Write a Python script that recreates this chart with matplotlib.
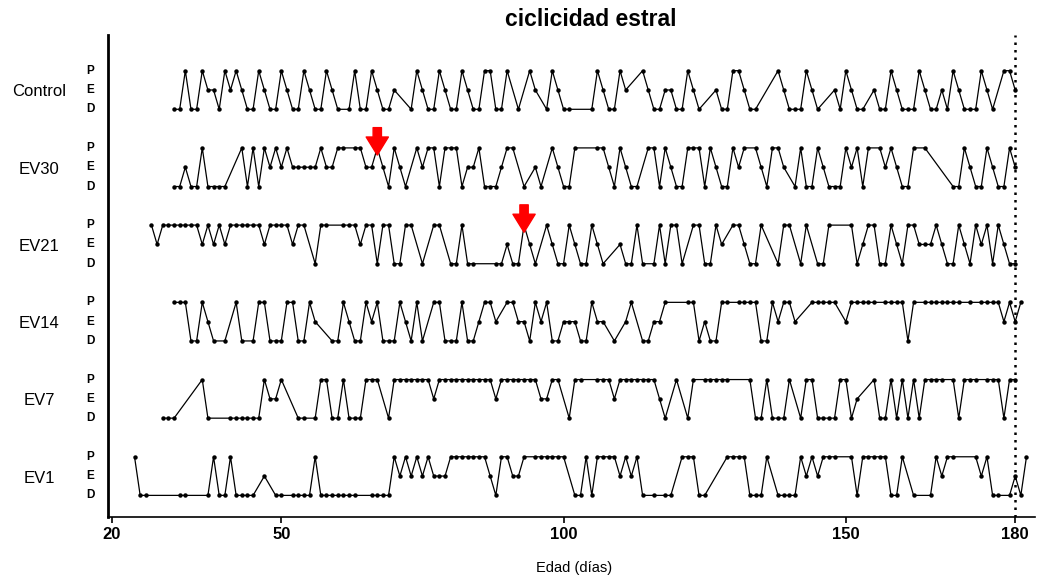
import matplotlib.pyplot as plt

plt.rcParams["font.family"] = ["Liberation Sans", "DejaVu Sans"]

groups = ["Control", "EV30", "EV21", "EV14", "EV7", "EV1"]
first_day = [31, 31, 27, 31, 29, 24]

# one letter per day: P proestro, E estro, D diestro, "-" = no frotis
control = ("DDPDDPEEDP" "EPEDDPEDDP" "EDDPEDDPED" "-DPDDPEDDE" "--DPEDDPED"
           "DPEDDPPDDP" "-D-PE-DPED" "D---DPEDDP" "E--PEDDEED" "DPED--EDDP"
           "PEDD---PED" "DDPED--EDP" "EDD-EDDPED" "DDPEDDEDPE" "DDDPED-PPE")
ev30 = ("DDEDDPDDDD" "--PDPDPEPE" "PEEEEEPEEP" "P-PPEEPEDP" "ED-PEPPDPP"
        "PDEEPDDDEP" "P-D-ED-PED" "DP---PPEDP" "EDD-PPDPED" "DPPPDPEDDP"
        "EP-PEDPPE-" "DPDDPEDDDP" "EPDP-PEPED" "DP-P----DD" "PEDDPEDDPE")
ev21 = ("PEPPPPPPPE" "PEPEPPPPPP" "EPPPPEPP-D" "PP--PPPEPP" "DPPDDPP-D-"
        "PP-DDPDD--" "-DDEDDPED-" "PEDDPEDDPE" "D--EDDPD-D" "PDPPD-PPDD"
        "PE-PPEDDP-" "-DPP-DP-DD" "P---PDEPPD" "DPEDPPEEEP" "EDDPEDPEPD"
        "PEDD")
ev14 = ("PPPDDPED-D" "-PD-DPPDDD" "PPDDPE--DD" "PEDDPEPDDD" "PEDPD-PPDD"
        "DPDDEPPE-P" "PEEDPEPDDE" "EEDDPEE-D-" "EP-DDEEP--" "-PPDEDDPP-"
        "PPPPDDPEPP" "E--PPPPP-E" "PPPPP-PPPP" "DP-PPPPPPP" "-P-PPPPEPEP")
ev7 = ("DDD----PD-" "--DDDDDDPE" "EP--DD-DPP" "DDPDDDPPP-" "DPPPPPPPEP"
       "PPPPPPPPPE" "PPPPPPPEEP" "P-DPP--PPP" "EPPPPPPPED" "-P-DP-PPPP"
       "P---PDDPDD" "DP-DPPDDDD" "PPDE--PDDP" "DPDPDPPPP-" "PDPPP-PPPD"
       "PP")
ev1 = ("PDD-----DD" "---DPDDPDD" "DD-E-DD-DD" "DDPDDDDDDD" "--DDDDPEPE"
       "PEPEEEPPPP" "PPPEDPPEEP" "-PPPPPP-DD" "PDPPPPEPEP" "D-D-DD-PPP"
       "DD---PPPPD" "DDP-DDDDPE" "PEPPP--PDP" "PPPPDDP-D-" "-DPEPP---P"
       "EPDD-DEDP")
series = [control, ev30, ev21, ev14, ev7, ev1]

arrow_groups = ["EV30", "EV21"]
arrow_days = [67, 93]
xticks = [20, 50, 100, 150, 180]


def main() -> None:
    level = {"D": 0, "E": 1, "P": 2}
    fig = plt.figure(figsize=(10.64, 5.83), dpi=100)
    ax = fig.add_axes([0.1015, 0.1132, 0.8712, 0.8268])

    n = len(groups)
    tr = ax.get_yaxis_transform()
    for r, (name, d0, s) in enumerate(zip(groups, first_day, series)):
        base = (n - 1 - r) * 4
        days = [d0 + i for i, c in enumerate(s) if c != "-"]
        ys = [base + level[c] for c in s if c != "-"]
        ax.plot(days, ys, color="black", lw=0.9, marker="o", ms=3.2,
                markeredgewidth=0)
        ax.text(-0.0745, base + 0.9, name, transform=tr, ha="center",
                va="center", fontsize=12)
        for lab, off in level.items():
            ax.text(-0.0194, base + off, lab, transform=tr, ha="center",
                    va="center", fontsize=8.5, fontweight="bold")

    for name, day in zip(arrow_groups, arrow_days):
        base = (n - 1 - groups.index(name)) * 4
        ax.annotate("", xy=(day, base + 1.63), xytext=(day, base + 3.05),
                    arrowprops=dict(facecolor="red", edgecolor="red",
                                    width=6, headwidth=16, headlength=13,
                                    shrink=0))

    ax.axvline(180, color="black", ls=(0, (1, 2)), lw=1.8)

    ax.set_xlim(19.3, 183.5)
    ax.set_ylim(-1.12, 23.85)
    ax.set_xticks(xticks)
    ax.set_xticklabels([str(t) for t in xticks], fontweight="bold",
                       fontsize=12)
    ax.set_yticks([])
    ax.tick_params(axis="x", direction="out", length=4, width=1.2, pad=3)
    for side in ["top", "right"]:
        ax.spines[side].set_visible(False)
    ax.spines["left"].set_linewidth(2)
    ax.spines["bottom"].set_linewidth(1.2)

    fig.text(591 / 1064, 1 - 20 / 583, "ciclicidad estral", ha="center",
             va="center", fontsize=16.5, fontweight="bold")
    fig.text(574 / 1064, 1 - 568 / 583, "Edad (días)", ha="center",
             va="center", fontsize=10.5)

    fig.savefig("out.png", dpi=100)


if __name__ == "__main__":
    main()
